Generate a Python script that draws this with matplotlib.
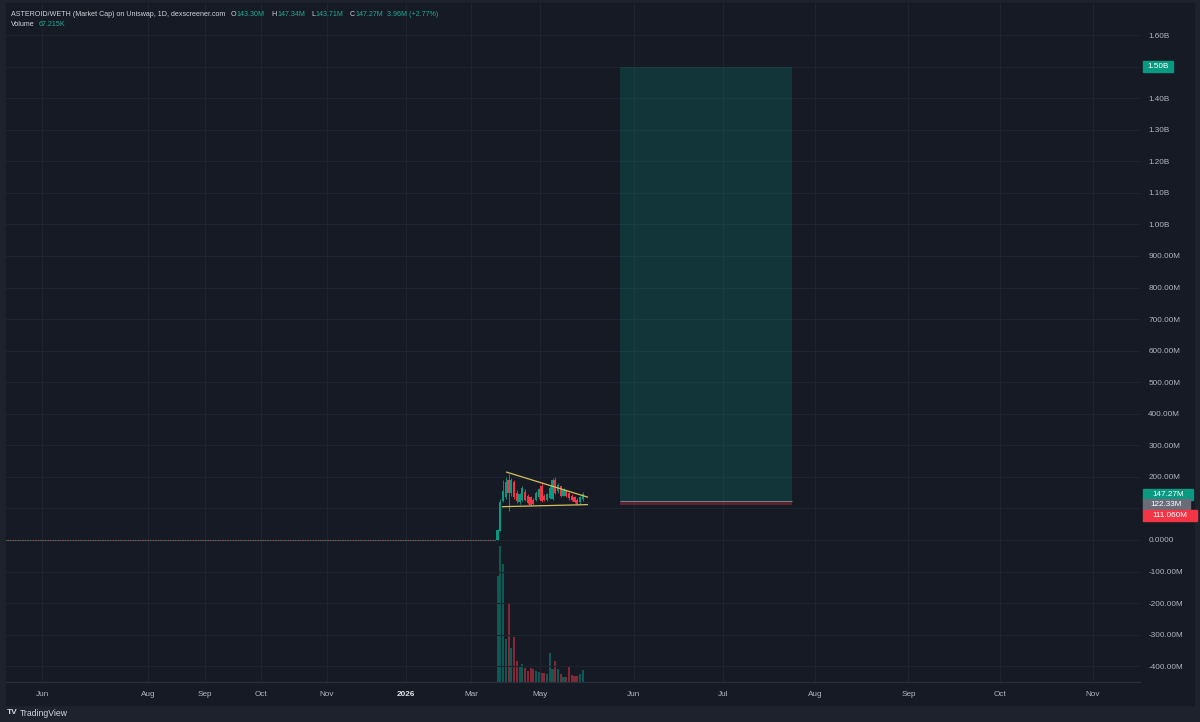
import matplotlib
matplotlib.use('Agg')
import matplotlib.pyplot as plt
from matplotlib.patches import Rectangle
import numpy as np

plt.rcParams['font.family'] = ['Liberation Sans', 'DejaVu Sans']

# daily candles, market cap in millions
opens  = [0.5, 30, 125, 135, 190, 148, 185, 150, 120, 128, 152, 140, 135, 128, 127, 135,
          172, 140, 127, 132, 130, 190, 155, 170, 140, 155, 150, 140, 136, 128, 120, 130]
highs  = [35, 130, 190, 200, 210, 195, 190, 158, 150, 170, 160, 145, 140, 132, 155, 165,
          185, 145, 150, 170, 195, 200, 180, 172, 165, 158, 152, 145, 138, 132, 138, 152]
lows   = [0, 28, 120, 130, 92, 140, 130, 118, 115, 125, 125, 115, 108, 110, 124, 130,
          120, 122, 124, 130, 128, 145, 150, 135, 138, 135, 128, 122, 118, 112, 115, 125]
closes = [32, 120, 155, 185, 148, 190, 136, 122, 145, 165, 128, 118, 112, 114, 150, 160,
          125, 127, 145, 165, 190, 150, 175, 140, 160, 140, 132, 126, 120, 115, 135, 147.27]
# volume in thousands
volumes = [594, 760, 660, 240, 442, 190, 252, 118, 90, 100, 78, 62, 78, 73, 62, 56,
           50, 50, 45, 162, 73, 118, 73, 45, 28, 28, 90, 39, 34, 34, 45, 67.2]

x_tick_pos = [-165.8, -127.3, -106.5, -86.2, -62.2, -33.5, -9.5, 15.3,
              49.5, 82.2, 115.6, 149.5, 182.9, 216.7]
x_tick_labels = ['Jun', 'Aug', 'Sep', 'Oct', 'Nov', '2026', 'Mar', 'May',
                 'Jun', 'Jul', 'Aug', 'Sep', 'Oct', 'Nov']
y_ticks = [-400, -300, -200, -100, 0, 100, 200, 300, 400, 500, 600, 700, 800,
           900, 1000, 1100, 1200, 1300, 1400, 1500, 1600]

# long position tool
target = 1500
entry = 122.33
stop = 111.06
pos_start, pos_end = 44.7, 107.3

# triangle drawing
tri_upper_x, tri_upper_y = [3.3, 32.7], [215, 136]
tri_lower_x, tri_lower_y = [1.8, 32.7], [105.6, 112]

W, H = 1200, 722
BG = '#161a25'
FRAME = '#1e222d'
GREEN = '#089981'
RED = '#f23645'
TXT = '#b2b5be'
GRID = '#1f2330'

fig = plt.figure(figsize=(W / 100, H / 100), dpi=100, facecolor=FRAME)
fig.patches.append(Rectangle((6 / W, 1 - 705 / H), (1194 - 6) / W, (705 - 3) / H,
                             transform=fig.transFigure, color=BG, zorder=0))

rect = [6 / W, 1 - 682 / H, (1140 - 6) / W, (682 - 3) / H]
axv = fig.add_axes(rect, facecolor='none', zorder=1)
ax = fig.add_axes(rect, facecolor='none', zorder=2, sharex=axv)

xlim = (-178.9, 233.8)
ax.set_xlim(*xlim)
ax.set_ylim(-450, 1701.5)

n = len(opens)
x = np.arange(n)
o = np.array(opens); c = np.array(closes)
up = c >= o
cols = np.where(up, GREEN, RED)

# volume overlay
axv.set_ylim(0, 3790)
axv.bar(x, volumes, width=0.75, color=cols, alpha=0.5, linewidth=0)
axv.plot([xlim[0], -0.5], [2, 2], color=GREEN, lw=0.8, ls=(0, (1, 2)), alpha=0.6)
axv.plot([xlim[0], -0.5], [2, 2], color=RED, lw=0.8, ls=(1.5, (1, 2)), alpha=0.6)
axv.axis('off')

# grid
for yt in y_ticks:
    ax.axhline(yt, color=GRID, lw=0.8, zorder=0)
for xt in x_tick_pos:
    ax.axvline(xt, color=GRID, lw=0.8, zorder=0)

# pre-launch near-zero prices
ax.plot([xlim[0], -0.5], [0, 0], color=GREEN, lw=0.8, ls=(0, (1, 2)))
ax.plot([xlim[0], -0.5], [0, 0], color=RED, lw=0.8, ls=(1.5, (1, 2)))

# candles
ax.vlines(x, lows, highs, colors=cols, lw=0.6, zorder=3)
body_h = np.maximum(np.abs(c - o), 1.0)
ax.bar(x, body_h, bottom=np.minimum(o, c), width=0.8, color=cols, linewidth=0, zorder=3)

# triangle
ax.plot(tri_upper_x, tri_upper_y, color='#d4c05a', lw=0.9, zorder=4)
ax.plot(tri_lower_x, tri_lower_y, color='#d4c05a', lw=0.9, zorder=4)

# position tool
ax.add_patch(Rectangle((pos_start, entry), pos_end - pos_start, target - entry,
                       fc=(8 / 255, 153 / 255, 129 / 255, 0.22), ec='none', zorder=1))
ax.add_patch(Rectangle((pos_start, stop), pos_end - pos_start, entry - stop,
                       fc=(242 / 255, 54 / 255, 69 / 255, 0.3), ec='none', zorder=1))
ax.hlines(entry, pos_start, pos_end, color='#787b86', lw=0.8, zorder=2)


def fmt(v):
    if v == 0:
        return '0.0000'
    if abs(v) >= 1000:
        return f'{v / 1000:.2f}B'
    return f'{v:.2f}M'


ax.set_yticks(y_ticks)
ax.set_yticklabels([fmt(v) for v in y_ticks])
ax.yaxis.tick_right()
ax.tick_params(axis='y', length=0, pad=6, labelsize=5.9, labelcolor=TXT)
ax.set_xticks(x_tick_pos)
ax.set_xticklabels(x_tick_labels)
ax.tick_params(axis='x', length=0, pad=6.5, labelsize=5.9, labelcolor=TXT)
for lab in ax.get_xticklabels():
    if lab.get_text() == '2026':
        lab.set_color('#e0e3eb')
        lab.set_fontweight('bold')
for s in ['top', 'left', 'right']:
    ax.spines[s].set_visible(False)
ax.spines['bottom'].set_color('#2a2e39')
ax.spines['bottom'].set_linewidth(1)


def price_tag(value, text, color, dy, width):
    yd = ax.transData.transform((0, value))[1] - dy
    x0 = 1143
    fig.patches.append(Rectangle((x0 / W, (yd - 5.5) / H), width / W, 11 / H,
                                 transform=fig.transFigure, color=color, zorder=5))
    fig.text((x0 + width / 2) / W, yd / H, text, color='white', fontsize=5.9,
             ha='center', va='center', zorder=6)


price_tag(target, '1.50B', GREEN, 0, 30)
price_tag(closes[-1], '147.27M', GREEN, 0.5, 50)
price_tag(entry, '122.33M', '#6a6d78', 3, 47)
price_tag(stop, '111.060M', RED, 11, 54)

# header
renderer = fig.canvas.get_renderer()


def header(parts, x0, y0):
    xp = x0
    for s, col, gap in parts:
        t = fig.text(xp / W, 1 - y0 / H, s, color=col, fontsize=5.1, ha='left', va='center')
        xp += t.get_window_extent(renderer=renderer).width + gap


LT = '#d1d4dc'
VAL = '#22ab94'
header([('ASTEROID/WETH (Market Cap) on Uniswap, 1D, dexscreener.com', LT, 5),
        ('O', LT, 1), ('143.30M', VAL, 6),
        ('H', LT, 1), ('147.34M', VAL, 6),
        ('L', LT, 1), ('143.71M', VAL, 6),
        ('C', LT, 1), ('147.27M', VAL, 3),
        ('3.96M (+2.77%)', VAL, 0)], 11, 15)
header([('Volume', LT, 4), ('67.215K', VAL, 0)], 11, 25)

# footer logo
fig.text(7 / W, 1 - 713 / H, 'TV', color=LT, fontsize=6, fontweight='heavy',
         ha='left', va='center')
fig.text(20 / W, 1 - 713 / H, 'TradingView', color=LT, fontsize=6.2,
         ha='left', va='center')

fig.savefig('out.png', dpi=100, facecolor=FRAME)
